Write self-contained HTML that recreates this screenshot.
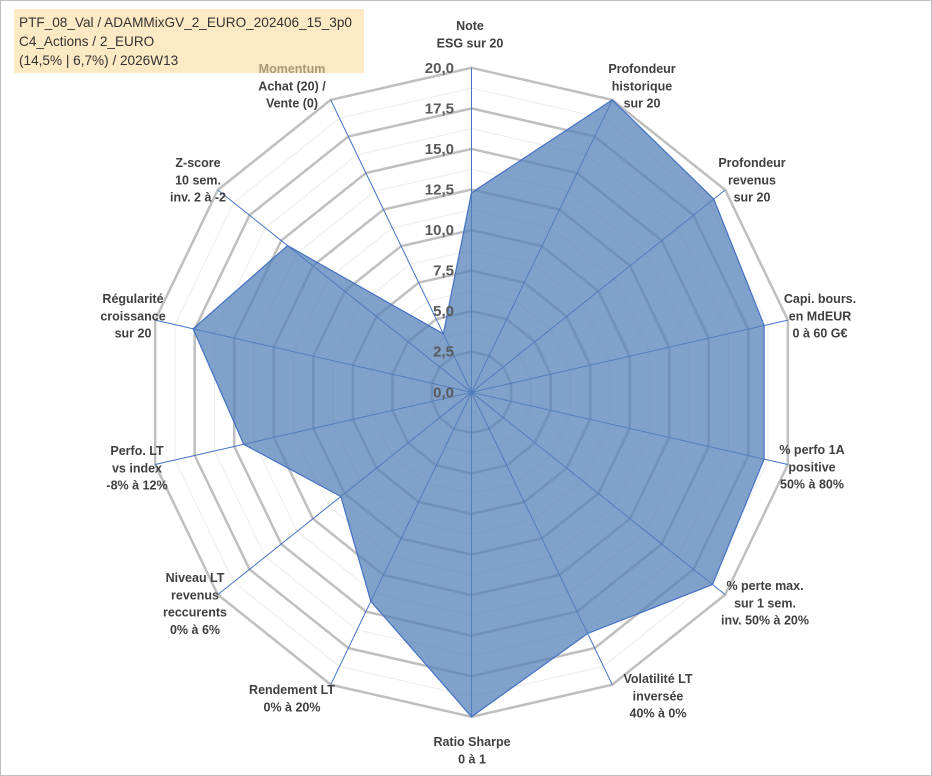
<!DOCTYPE html>
<html><head><meta charset="utf-8">
<style>
html,body{margin:0;padding:0;background:#fff;}
#wrap{position:relative;width:932px;height:776px;overflow:hidden;font-family:"Liberation Sans",Arial,sans-serif;}
#frame{position:absolute;left:0;top:0;width:930px;height:774px;border:1px solid #bfbfbf;}
#legend{position:absolute;left:14px;top:9px;width:350px;height:64px;background:#fde9c4;}
#legend div{font-size:13.6px;color:#333;line-height:19px;padding-left:5px;}
</style></head><body>
<div id="wrap">
<div id="frame"></div>
<div id="legend">
<div style="padding-top:4px">PTF_08_Val / ADAMMixGV_2_EURO_202406_15_3p0</div>
<div>C4_Actions / 2_EURO</div>
<div>(14,5% | 6,7%) / 2026W13</div>
</div>
<svg id="chart" width="932" height="776" style="position:absolute;left:0;top:0"></svg>
</div>
<script>
const categories = [
 ["Note","ESG sur 20"],
 ["Profondeur","historique","sur 20"],
 ["Profondeur","revenus","sur 20"],
 ["Capi. bours.","en MdEUR","0 à 60 G€"],
 ["% perfo 1A","positive","50% à 80%"],
 ["% perte max.","sur 1 sem.","inv. 50% à 20%"],
 ["Volatilité LT","inversée","40% à 0%"],
 ["Ratio Sharpe","0 à 1"],
 ["Rendement LT","0% à 20%"],
 ["Niveau LT","revenus","reccurents","0% à 6%"],
 ["Perfo. LT","vs index","-8% à 12%"],
 ["Régularité","croissance","sur 20"],
 ["Z-score","10 sem.","inv. 2 à -2"],
 ["Momentum","Achat (20) /","Vente (0)"]
];
const values = [12.3, 20, 19.1, 18.5, 18.5, 19.0, 16.5, 20, 14.3, 10.3, 14.4, 17.6, 14.5, 4.0];
const ticks = ["0,0","2,5","5,0","7,5","10,0","12,5","15,0","17,5","20,0"];
const tickValues = [0,2.5,5,7.5,10,12.5,15,17.5,20];
const maxVal = 20;

const cx=471.5, cy=392.3, R=324.5;
const labelPos = [[470,25],[642,68],[752,162],[820,298],[812,449],[765,585],[658,678],[472,741],[292,689],[195,577],[137,450],[133,298],[198,162],[292,68]];
const svg=document.getElementById('chart');
const NS='http://www.w3.org/2000/svg';
const n=categories.length;
function ang(i){return i*2*Math.PI/n;}
function pt(i,v){const r=v/maxVal*R;return [cx+r*Math.sin(ang(i)), cy-r*Math.cos(ang(i))];}
function mk(tag,attrs){const e=document.createElementNS(NS,tag);for(const k in attrs)e.setAttribute(k,attrs[k]);svg.appendChild(e);return e;}
function ring(v){let s=[];for(let i=0;i<n;i++)s.push(pt(i,v).join(','));return s.join(' ');}
for(let k=0;k<tickValues.length-1;k++){
 const v=(tickValues[k]+tickValues[k+1])/2;
 const e=mk('polygon',{points:ring(v),fill:'none',stroke:'#ececec','stroke-width':1});
 
 
}
for(let k=1;k<tickValues.length;k++){
 const e=mk('polygon',{points:ring(tickValues[k]),fill:'none',stroke:'#bfbfbf','stroke-width':2.5});
 
 
}
for(let i=0;i<n;i++){
 const p=pt(i,maxVal);
 const e=mk('line',{x1:cx,y1:cy,x2:p[0],y2:p[1],stroke:'#4472c4','stroke-width':1});
 
 
}
const dp=values.map((v,i)=>pt(i,v).join(',')).join(' ');
const poly=mk('polygon',{points:dp,fill:'#5582b8','fill-opacity':0.75,stroke:'#4472c4','stroke-width':1.2});


for(let k=0;k<ticks.length;k++){
 const y=cy-tickValues[k]/maxVal*R+5;
 const t=mk('text',{x:454,y:y,'text-anchor':'end','font-size':15,'font-weight':'bold',fill:'#595959','font-family':'Liberation Sans, Arial, sans-serif'});
 t.textContent=ticks[k];
 
 
}
for(let i=0;i<n;i++){
 const lines=categories[i];
 const [x,y0]=labelPos[i];
 const g=mk('text',{x:x,y:y0+5,'text-anchor':'middle','font-size':12.5,'font-weight':'bold',fill:'#404040','font-family':'Liberation Sans, Arial, sans-serif'});
 
 
 lines.forEach((l,j)=>{
  const ts=document.createElementNS(NS,'tspan');
  ts.setAttribute('x',x);
  ts.setAttribute('y',y0+5+j*17.3);
  if(i===n-1&&j===0)ts.setAttribute('fill','#a89a78');
  ts.textContent=l;
  g.appendChild(ts);
 });
}
</script>
</body></html>
